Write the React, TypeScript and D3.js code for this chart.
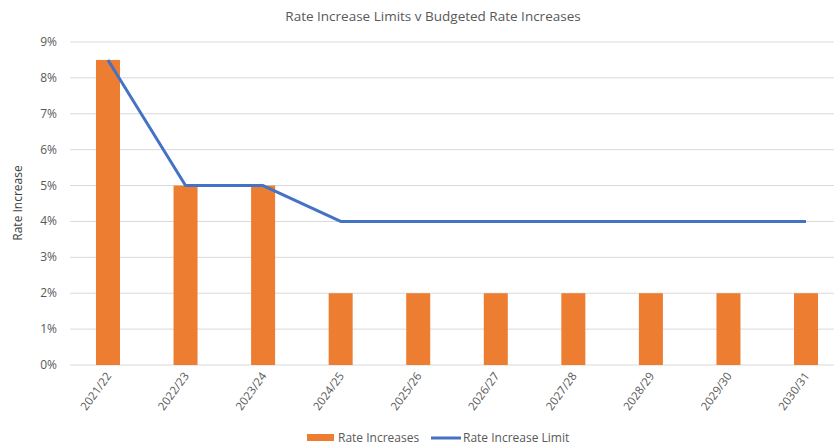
import React from "react";
import * as d3 from "d3";

const categories = ["2021/22", "2022/23", "2023/24", "2024/25", "2025/26", "2026/27", "2027/28", "2028/29", "2029/30", "2030/31"];
const rateIncreases = [0.085, 0.05, 0.05, 0.02, 0.02, 0.02, 0.02, 0.02, 0.02, 0.02];
const rateLimit = [0.085, 0.05, 0.05, 0.04, 0.04, 0.04, 0.04, 0.04, 0.04, 0.04];
const yTicks = [0, 0.01, 0.02, 0.03, 0.04, 0.05, 0.06, 0.07, 0.08, 0.09];

const W = 834, H = 446;
const FONT = "'Segoe UI', 'Open Sans', 'DejaVu Sans', sans-serif";

export default function App() {
  const x = d3.scaleBand<string>().domain(categories).range([69.2, 844.8]).paddingInner(0.69).paddingOuter(0.345);
  const y = d3.scaleLinear().domain([0, 0.09]).range([365, 42]);
  const bw = 24;
  const cx = (c: string) => (x(c) as number) + x.bandwidth() / 2;
  const line = d3.line<number>().x((_, i) => cx(categories[i])).y((d) => y(d));
  const fmt = d3.format(".0%");
  return (
    <svg width={W} height={H} style={{ position: "absolute", left: 0, top: 0, background: "#fff" }} fontFamily={FONT}>
      <rect width={W} height={H} fill="#fff" />
      <text x={433} y={21} textAnchor="middle" fontSize={13.5} fill="#595959">Rate Increase Limits v Budgeted Rate Increases</text>
      {yTicks.map((t) => (
        <g key={t}>
          <line x1={70} x2={W} y1={y(t)} y2={y(t)} stroke="#d9d9d9" strokeWidth={1} />
          <text x={57} y={y(t) + 4} textAnchor="end" fontSize={12} fill="#595959">{fmt(t)}</text>
        </g>
      ))}
      <text transform={`translate(22,203) rotate(-90)`} textAnchor="middle" fontSize={12} fill="#404040">Rate Increase</text>
      {categories.map((c, i) => (
        <rect key={c} x={cx(c) - bw / 2} y={y(rateIncreases[i])} width={bw} height={y(0) - y(rateIncreases[i])} fill="#ED7D31" />
      ))}
      <path d={line(rateLimit) as string} fill="none" stroke="#4472C4" strokeWidth={3} strokeLinejoin="round" />
      {categories.map((c) => (
        <text key={c} transform={`translate(${cx(c) + 4},${376}) rotate(-54)`} textAnchor="end" fontSize={11.5} fill="#595959">{c}</text>
      ))}
      <rect x={307} y={434} width={27} height={7} fill="#ED7D31" />
      <text x={338} y={442} fontSize={12} fill="#595959">Rate Increases</text>
      <line x1={431} x2={461} y1={438} y2={438} stroke="#4472C4" strokeWidth={3} />
      <text x={463} y={442} fontSize={12} fill="#595959">Rate Increase Limit</text>
    </svg>
  );
}
